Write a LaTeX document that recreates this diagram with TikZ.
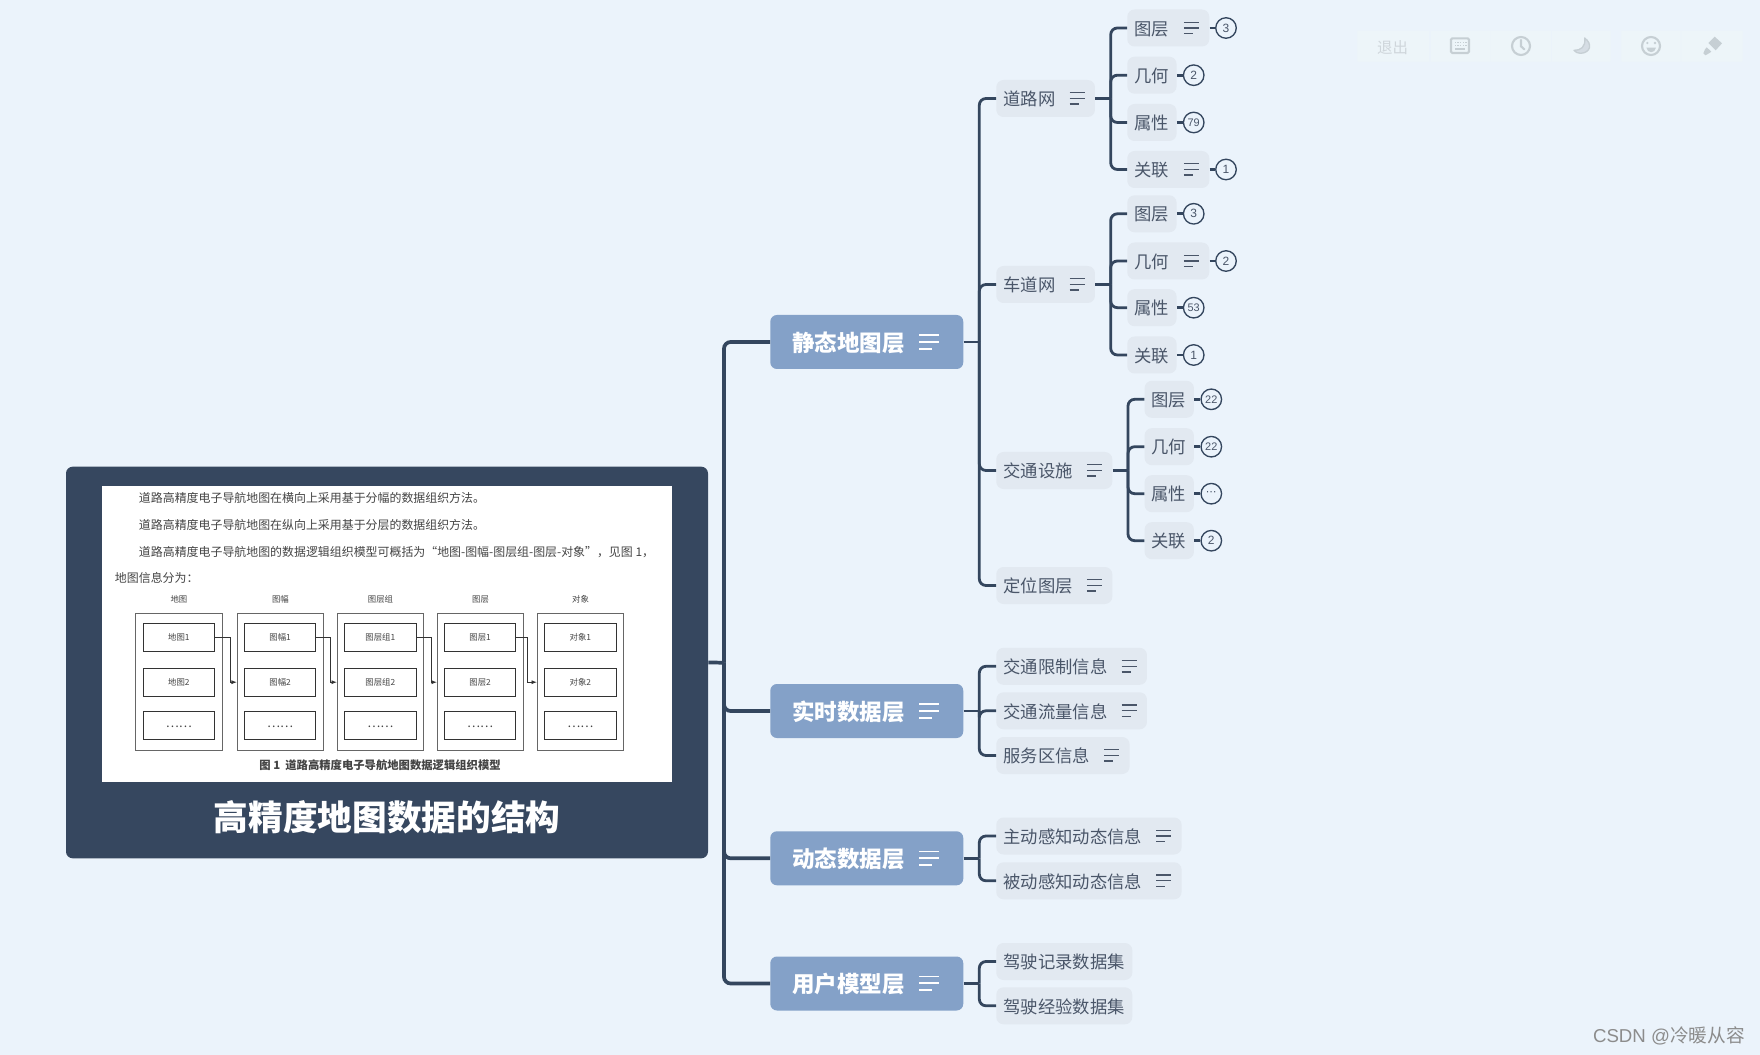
\documentclass[tikz,border=0pt]{standalone}
\usepackage{fontspec}
\setmainfont{Noto Sans CJK SC}
\newfontfamily\lat{Liberation Sans}
\newfontfamily\dej{DejaVu Sans}
\usetikzlibrary{arrows.meta,calc}
\definecolor{bgc}{HTML}{EBF3FB}
\definecolor{dark}{HTML}{34465E}
\definecolor{rootc}{HTML}{36475F}
\definecolor{mainc}{HTML}{84A1C8}
\definecolor{subc}{HTML}{E2E9F1}
\definecolor{txtc}{HTML}{4A5669}
\definecolor{toolc}{HTML}{EDF5F9}
\definecolor{tooli}{HTML}{C6CFD4}
\definecolor{docc}{HTML}{444444}
\newcommand{\fsz}[1]{\fontsize{#1}{#1}\selectfont}
\tikzset{
  x=0.75pt,y=-0.75pt,
  rootbox/.style={fill=rootc,rounded corners=5pt,minimum width=481.5pt,minimum height=293.7pt,inner sep=0pt},
  docpage/.style={fill=white,minimum width=427.5pt,minimum height=222pt,inner sep=0pt},
  maintopic/.style={fill=mainc,rounded corners=5pt,minimum width=144.75pt,minimum height=40.5pt,inner ysep=0pt,inner xsep=16.4pt,text width=111.95pt,text height=15.9pt,text depth=2pt,anchor=west,text=white,font=\fsz{16.9}\bfseries},
  subtopic/.style={fill=subc,rounded corners=5.5pt,minimum height=27.75pt,inner ysep=0pt,inner xsep=5.3pt,anchor=west,text=txtc,font=\fsz{13},text height=12.3pt,text depth=1.5pt,text width=#1*0.75pt-10.6pt},
  badge/.style={circle,draw=dark,line width=1pt,fill=bgc,minimum size=15.4pt,inner sep=0pt,text=txtc,font=\lat\fsz{9}},
  badgesm/.style={badge,font=\lat\fsz{8.2}},
  trunk/.style={draw=dark,line width=2.8pt,rounded corners=5pt},
  branch/.style={draw=dark,line width=2.1pt,rounded corners=5pt},
  outerb/.style={draw=black!60,line width=0.7pt,minimum width=64.7pt,minimum height=102.8pt,inner sep=0pt},
  innerb/.style={draw=black!80,line width=0.75pt,minimum width=53.6pt,minimum height=21pt,inner sep=0pt,text=docc,font=\fsz{6.3}},
  collabel/.style={text=docc,font=\fsz{6.3},inner sep=0pt},
  doctext/.style={text=docc,font=\fsz{8.95},inner sep=0pt,anchor=west},
  flow/.style={draw=black!80,line width=0.6pt,-{Latex[length=4pt,width=3pt]}},
  toolbox/.style={fill=toolc},
  toolline/.style={draw=tooli,line width=1.6pt},
  notesm/.pic={\draw[line width=1pt,txtc] (0,-5.7)--(15.3,-5.7) (0,0)--(15.3,0) (0,5.6)--(9,5.6);},
  notelg/.pic={\draw[line width=1.3pt,white] (0,-6.9)--(19.7,-6.9) (0,-.2)--(19.7,-.2) (0,6.8)--(12.3,6.8);},
}
% spine, node name, y, width, icon?, label, badge x, badge style, badge text
\newcommand{\leaf}[9]{%
  \path (#1) ++(16.3,0) coordinate (tmpa);
  \node[subtopic=#4] (#2) at (tmpa|-0,#3) {#6};
  \ifnum#5=1 \pic at ([shift={(-25.7,0)}]#2.east) {notesm};\fi
  \draw[branch] (#1) |- (#2.west);
  \node[#8] (#2b) at (#7,#3) {#9};
  \draw[draw=dark,line width=2pt] (#2.east) -- (#2b.west);
}
\begin{document}
\begin{tikzpicture}
\useasboundingbox (0,0) rectangle (1760,1055);
\fill[bgc] (0,0) rectangle (1760,1055);

% toolbar
\begin{scope}[shift={(1340,10)},x=.25pt,y=-.25pt]
\fill[toolbox] (52,62) rectangle (268,155) (272,62) rectangle (450,155) (452,62) rectangle (634,155) (636,62) rectangle (812,155) (844,62) rectangle (1022,155) (1024,62) rectangle (1208,155);
\node[text=tooli!85!white,font=\fsz{11.6},inner sep=0pt] (exitbtn) at (158,113) {退出};
\draw[toolline,rounded corners=1pt] (333,85) rectangle (387,129);
\foreach \xx in {346,354,362,370,378} {\fill[tooli] (\xx-2,96) rectangle (\xx+2,100);\fill[tooli] (\xx-2,105) rectangle (\xx+2,109);}
\fill[tooli] (346,115) rectangle (374,119);
\draw[toolline] (543,108) circle (27);
\draw[toolline,line cap=round] (543,90)--(543,109)--(553,118);
\draw[tooli,fill=tooli!60!bgc,line width=1pt,line join=round] (734,84) .. controls (758,102) and (752,128) .. (722,130) .. controls (714,130) and (706,127) .. (702,121) .. controls (722,122) and (738,110) .. cycle;
\draw[toolline] (933,108) circle (27);
\fill[tooli] (922,99) circle (4) (945,99) circle (4);
\fill[tooli] (919,113) -- (948,113) .. controls (946,131) and (921,131) .. cycle;
\fill[tooli] (1105,99) -- (1124,80) -- (1146,100) -- (1127,121) -- cycle;
\fill[tooli] (1100,112) -- (1114,125) -- (1107,130) -- (1096,136) -- (1090,130) -- (1095,118) -- cycle;
\end{scope}

% root
\node[rootbox] (root) at (387,662.5) {};
\node[docpage] (page) at (387,633.7) {};
\node[text=white,font=\fsz{26}\bfseries,inner sep=0pt] (title) at (387,817) {高精度地图数据的结构};
\node[doctext] (l1) at (138.7,498) {道路高精度电子导航地图在横向上采用基于分幅的数据组织方法。};
\node[doctext] (l2) at (138.7,524.7) {道路高精度电子导航地图在纵向上采用基于分层的数据组织方法。};
\node[doctext] (l3) at (138.7,551.7) {道路高精度电子导航地图的数据逻辑组织模型可概括为“地图-图幅-图层组-图层-对象”，见图 1，};
\node[doctext] (l4) at (114.7,578) {地图信息分为：};
\node[text=docc,font=\fsz{8.5}\bfseries,inner sep=0pt] (cap) at (380,765.3) {图 1\ \ 道路高精度电子导航地图数据逻辑组织模型};

\foreach \nm/\ox/\ix/\ta/\tb/\tc in {a/178.9/178.9/地图/地图1/地图2,b/280.4/280.1/图幅/图幅1/图幅2,c/380.5/380.3/图层组/图层组1/图层组2,d/480.5/480.1/图层/图层1/图层2,e/580.5/580.4/对象/对象1/对象2}{
  \node[collabel] (lab\nm) at (\ox,599.3) {\ta};
  \node[outerb] (out\nm) at (\ox,681.8) {};
  \node[innerb] (\nm1) at (\ix,637.2) {\tb};
  \node[innerb] (\nm2) at (\ix,682.2) {\tc};
  \node[innerb] (\nm3) at (\ix,725.7) {\raisebox{-2.5pt}{\fsz{9.2}……}};
}
\draw[flow] (a1.east) -- ++(15.5,0) |- (outb.west|-b2);
\draw[flow] (b1.east) -- ++(14.5,0) |- (outc.west|-c2);
\draw[flow] (c1.east) -- ++(14.5,0) |- (outd.west|-d2);
\draw[flow] (d1.east) -- ++(11.5,0) |- (oute.west|-e2);

% main topics
\foreach \nm/\yy/\tx in {m1/342/静态地图层,m2/711/实时数据层,m3/858.3/动态数据层,m4/983.5/用户模型层}{
  \node[maintopic] (\nm) at (770,\yy) {\tx};
  \pic at ([shift={(-44.3,0)}]\nm.east) {notelg};
}
\coordinate (t0) at (724,662.7);
\draw[trunk] (root.east) -- (t0);
\draw[trunk] (t0) |- (m1.west);
\draw[trunk] (t0) |- (m2.west);
\draw[trunk] (t0) |- (m3.west);
\draw[trunk] (t0) |- (m4.west);

% level 2
\foreach \nm/\yy/\ww/\tx in {r1/98.5/98.7/道路网,r2/284.5/98.7/车道网,r3/470.5/116/交通设施,r4/585.5/116/定位图层,
  s1/666.3/150.7/交通限制信息,s2/710.8/150.7/交通流量信息,s3/755.5/133.3/服务区信息,
  u1/836/185.3/主动感知动态信息,u2/880.8/185.3/被动感知动态信息}{
  \node[subtopic=\ww] (\nm) at (996,\yy) {\tx};
  \pic at ([shift={(-25.7,0)}]\nm.east) {notesm};
}
\node[subtopic=136] (v1) at (996,961.5) {驾驶记录数据集};
\node[subtopic=136] (v2) at (996,1005.8) {驾驶经验数据集};

\coordinate (j1) at (979.3,342);
\coordinate (j2) at (979.3,711);
\coordinate (j3) at (979.3,858.3);
\coordinate (j4) at (979.3,983.5);
\draw[branch] (m1.east) -- (j1);
\draw[branch] (m2.east) -- (j2);
\draw[branch] (m3.east) -- (j3);
\draw[branch] (m4.east) -- (j4);
\foreach \j/\c in {j1/r1,j1/r2,j1/r3,j1/r4,j2/s1,j2/s2,j2/s3,j3/u1,j3/u2,j4/v1,j4/v2}{
  \draw[branch] (\j) |- (\c.west);
}

% level 3
\coordinate (k1) at (1110.7,98.5);
\coordinate (k2) at (1110.7,284.5);
\coordinate (k3) at (1128,470.5);
\draw[branch] (r1.east) -- (k1);
\draw[branch] (r2.east) -- (k2);
\draw[branch] (r3.east) -- (k3);
\leaf{k1}{p1}{28}{82}{1}{图层}{1226}{badge}{3}
\leaf{k1}{p2}{75.2}{49.3}{0}{几何}{1193.7}{badge}{2}
\leaf{k1}{p3}{122.5}{49.3}{0}{属性}{1193.7}{badgesm}{79}
\leaf{k1}{p4}{169.5}{82}{1}{关联}{1226}{badge}{1}
\leaf{k2}{q1}{213.8}{49.3}{0}{图层}{1193.7}{badge}{3}
\leaf{k2}{q2}{261}{82}{1}{几何}{1226}{badge}{2}
\leaf{k2}{q3}{307.7}{49.3}{0}{属性}{1193.7}{badgesm}{53}
\leaf{k2}{q4}{355}{49.3}{0}{关联}{1193.7}{badge}{1}
\leaf{k3}{w1}{399.3}{49.3}{0}{图层}{1211.3}{badgesm}{22}
\leaf{k3}{w2}{446.7}{49.3}{0}{几何}{1211.3}{badgesm}{22}
\leaf{k3}{w3}{493.7}{49.3}{0}{属性}{1211.3}{badge}{\dej\fsz{8}⋯}
\leaf{k3}{w4}{540.7}{49.3}{0}{关联}{1211.3}{badge}{2}

% watermark
\node[text=black!45,font=\lat\fsz{14},inner sep=0pt,anchor=east] (wm) at (1745,1036) {CSDN @{\rmfamily 冷暖从容}};
\end{tikzpicture}
\end{document}
